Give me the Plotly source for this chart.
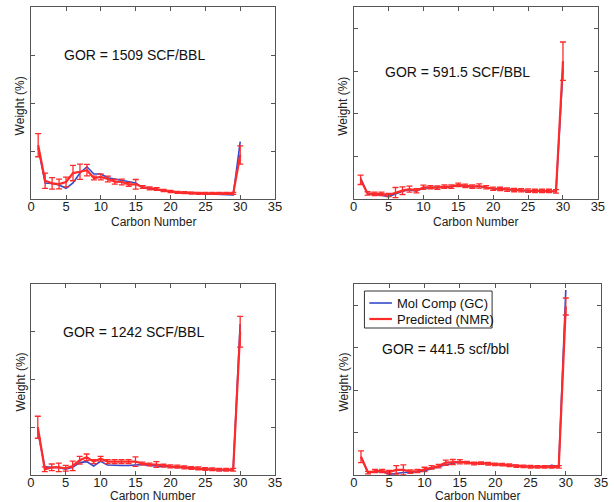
import plotly.graph_objects as go

W, H = 614, 502

carbon = list(range(1, 31))
x_ticks = [0, 5, 10, 15, 20, 25, 30, 35]

# ---- GOR = 1509 SCF/BBL ----
gc_1509 = [5.3, 1.67, 1.63, 1.46, 1.11, 1.67, 2.71, 3.36, 2.6, 2.6,
           2.22, 2.08, 1.88, 1.77, 1.67, 1.18, 1.07, 1.0, 0.86, 0.73,
           0.66, 0.62, 0.59, 0.57, 0.55, 0.52, 0.49, 0.47, 0.42, 5.97]
nmr_1509 = [5.6, 1.9, 1.63, 1.56, 1.77, 2.7, 2.84, 3.0, 2.19, 2.3,
            2.08, 1.8, 1.77, 1.53, 1.53, 1.25, 1.1, 1.04, 0.89, 0.78,
            0.7, 0.66, 0.62, 0.59, 0.59, 0.59, 0.59, 0.59, 0.59, 4.58]
err_1509 = [1.2, 0.8, 0.6, 0.5, 0.5, 0.8, 0.8, 0.6, 0.2, 0.3,
            0.3, 0.25, 0.3, 0.2, 0.5, 0.15, 0.15, 0.15, 0.12, 0.12,
            0.1, 0.1, 0.1, 0.1, 0.1, 0.1, 0.1, 0.1, 0.1, 0.95]

# ---- GOR = 591.5 SCF/BBL ----
gc_591 = [4.9, 1.2, 1.0, 0.9, 0.55, 1.2, 1.8, 2.2, 1.85, 2.6,
          2.65, 2.6, 2.8, 2.85, 3.2, 3.05, 2.85, 3.0, 2.7, 2.35,
          2.3, 2.15, 2.05, 2.0, 1.9, 1.85, 1.85, 1.85, 1.75, 30.5]
nmr_591 = [4.5, 1.3, 1.2, 1.2, 0.94, 1.5, 1.95, 2.3, 1.95, 2.75,
           2.75, 2.66, 2.9, 2.9, 3.3, 3.1, 2.9, 3.05, 2.75, 2.4,
           2.35, 2.2, 2.1, 2.05, 1.95, 1.88, 1.88, 1.88, 1.8, 32.3]
err_591 = [1.1, 0.4, 0.4, 0.4, 0.4, 1.2, 0.9, 0.7, 0.5, 0.5,
           0.4, 0.4, 0.4, 0.4, 0.4, 0.4, 0.4, 0.5, 0.4, 0.4,
           0.4, 0.4, 0.4, 0.4, 0.4, 0.4, 0.4, 0.4, 0.4, 4.5]

# ---- GOR = 1242 SCF/BBL ----
gc_1242 = [9.2, 1.7, 1.6, 1.6, 1.2, 1.6, 2.6, 2.8, 1.9, 2.85,
           2.1, 2.0, 2.0, 2.0, 2.1, 2.2, 2.0, 1.9, 1.9, 1.75,
           1.7, 1.55, 1.42, 1.36, 1.22, 1.17, 1.08, 1.08, 1.08, 31.6]
nmr_1242 = [10.0, 1.2, 1.6, 1.6, 1.4, 1.9, 3.1, 3.7, 2.8, 3.4,
            2.8, 2.8, 2.8, 2.8, 2.8, 2.4, 2.2, 2.2, 1.95, 1.8,
            1.75, 1.6, 1.46, 1.4, 1.25, 1.2, 1.1, 1.1, 1.1, 30.0]
err_1242 = [2.3, 0.5, 0.7, 0.9, 0.6, 1.0, 0.8, 0.7, 0.4, 0.5,
            0.4, 0.4, 0.4, 0.4, 1.0, 0.3, 0.3, 0.6, 0.3, 0.3,
            0.3, 0.3, 0.3, 0.3, 0.3, 0.3, 0.3, 0.3, 0.3, 3.2]

# ---- GOR = 441.5 scf/bbl ----
gc_441 = [4.3, 0.55, 0.8, 0.8, 0.15, 0.4, 0.6, 0.6, 0.8, 1.0,
          1.5, 2.0, 2.4, 2.7, 3.2, 2.9, 2.7, 2.8, 2.65, 2.5,
          2.45, 2.3, 2.1, 2.05, 1.95, 1.9, 1.9, 2.3, 2.0, 43.6]
nmr_441 = [4.3, 0.55, 0.94, 0.94, 0.7, 1.2, 1.2, 0.8, 0.94, 1.33,
           1.8, 2.1, 2.9, 3.05, 3.1, 2.9, 2.7, 2.8, 2.65, 2.5,
           2.45, 2.3, 2.1, 2.05, 1.95, 1.9, 1.9, 1.9, 1.9, 39.7]
err_441 = [1.4, 0.3, 0.4, 0.4, 0.4, 1.0, 1.2, 0.4, 0.4, 0.5,
           0.4, 0.4, 0.6, 0.6, 0.5, 0.3, 0.3, 0.3, 0.3, 0.3,
           0.3, 0.3, 0.3, 0.3, 0.3, 0.3, 0.3, 0.3, 0.3, 2.0]

series_names = ["Mol Comp (GC)", "Predicted (NMR)"]

panels = [
    # (gc, nmr, err, label, y max, y step, x domain px, y domain px, label centre px)
    (gc_1509, nmr_1509, err_1509, "GOR = 1509 SCF/BBL", 20, 5,
     (27.7, 276), (7, 199), (133, 55)),
    (gc_591, nmr_591, err_591, "GOR = 591.5 SCF/BBL", 45, 10,
     (356, 604.7), (7, 199), (462, 72)),
    (gc_1242, nmr_1242, err_1242, "GOR = 1242 SCF/BBL", 40, 10,
     (27.3, 276), (284, 475), (132, 332)),
    (gc_441, nmr_441, err_441, "GOR = 441.5 scf/bbl", 45, 10,
     (356.3, 608), (284, 475), (450, 349)),
]

FONT = "Arial, Liberation Sans, sans-serif"
BLUE = "#3348c8"
RED = "#ff2a2a"
AXIS = "#555555"


def px(x):
    return x / W


def py(y):
    return 1 - y / H


fig = go.Figure()
annotations = []
shapes = []

for i, (gc, nmr, err, label, ymax, ystep, xd, yd, lp) in enumerate(panels):
    n = "" if i == 0 else str(i + 1)
    xa, ya = "x" + n, "y" + n
    fig.add_trace(go.Scatter(
        x=carbon, y=gc, mode="lines", name=series_names[0],
        line=dict(color=BLUE, width=1.6), xaxis=xa, yaxis=ya,
        showlegend=False))
    fig.add_trace(go.Scatter(
        x=carbon, y=nmr, mode="lines", name=series_names[1],
        line=dict(color=RED, width=2.2),
        error_y=dict(type="data", array=err, color=RED, thickness=1.3, width=3),
        xaxis=xa, yaxis=ya, showlegend=False))

    axis_common = dict(
        showline=True, linecolor=AXIS, linewidth=1, mirror="ticks",
        ticks="inside", ticklen=4, tickcolor=AXIS, showgrid=False,
        zeroline=False)
    fig.layout["xaxis" + n] = dict(
        domain=[px(xd[0]), px(xd[1])], range=[0, 35], tickvals=x_ticks,
        tickfont=dict(family=FONT, size=13, color="#222222"),
        ticklabelstandoff=-5, anchor=ya, **axis_common)
    fig.layout["yaxis" + n] = dict(
        domain=[py(yd[1]), py(yd[0])], range=[0, ymax],
        dtick=ystep, tick0=0, showticklabels=False, anchor=xa, **axis_common)

    # GOR label
    annotations.append(dict(
        text=label, x=px(lp[0]), y=py(lp[1]), xref="paper", yref="paper",
        showarrow=False, font=dict(family=FONT, size=14, color="#111111"),
        xanchor="center", yanchor="middle"))
    # x-axis title (the bottom row sits against the page edge)
    title_y = min(yd[1] + 23, 496)
    annotations.append(dict(
        text="Carbon Number", x=px((xd[0] + xd[1]) / 2), y=py(title_y),
        xref="paper", yref="paper", showarrow=False,
        font=dict(family=FONT, size=12, color="#222222"),
        xanchor="center", yanchor="middle"))
    # y-axis title
    annotations.append(dict(
        text="Weight (%)", x=px(xd[0] - 11), y=py((yd[0] + yd[1]) / 2 + 3),
        xref="paper", yref="paper", showarrow=False, textangle=-90,
        font=dict(family=FONT, size=12, color="#222222"),
        xanchor="center", yanchor="middle"))

# Legend box inside the last panel
box = dict(x0=367, x1=497, y0=291, y1=328)
shapes.append(dict(
    type="rect", xref="paper", yref="paper",
    x0=px(box["x0"]), x1=px(box["x1"]), y0=py(box["y1"]), y1=py(box["y0"]),
    line=dict(color="#333333", width=1), fillcolor="white", layer="above"))
for row, (name, color, width) in enumerate(
        [(series_names[0], BLUE, 1.6), (series_names[1], RED, 2.2)]):
    yrow = 303 + 16 * row
    shapes.append(dict(
        type="line", xref="paper", yref="paper",
        x0=px(372), x1=px(395), y0=py(yrow), y1=py(yrow),
        line=dict(color=color, width=width), layer="above"))
    annotations.append(dict(
        text=name, x=px(398), y=py(yrow), xref="paper", yref="paper",
        showarrow=False, xanchor="left", yanchor="middle",
        font=dict(family=FONT, size=13, color="#111111")))

fig.update_layout(
    width=W, height=H,
    margin=dict(l=0, r=0, t=0, b=0),
    paper_bgcolor="white", plot_bgcolor="white",
    annotations=annotations, shapes=shapes, showlegend=False,
)

fig.write_html("out.html", config={"displayModeBar": False})
